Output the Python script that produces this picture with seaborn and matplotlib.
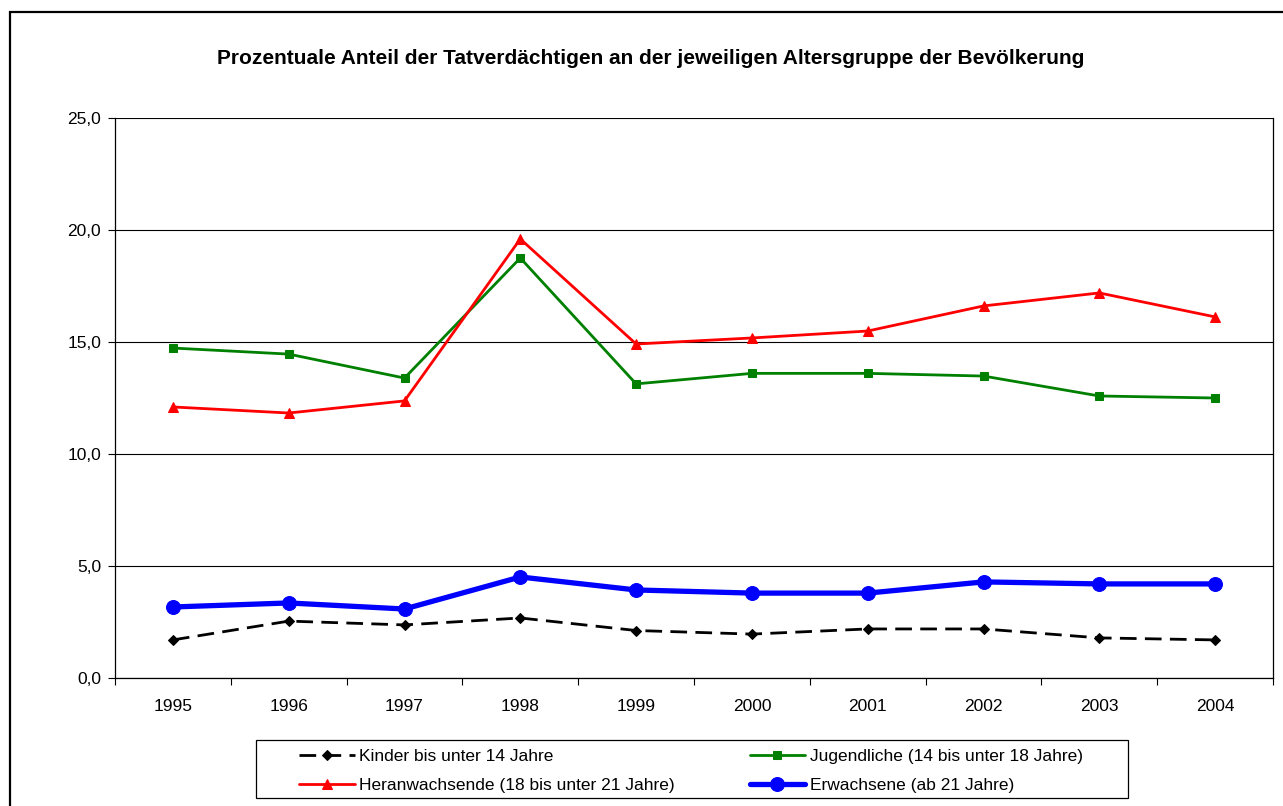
import numpy as np
import pandas as pd
import seaborn as sns
import matplotlib.pyplot as plt
from matplotlib.patches import Rectangle
from matplotlib.ticker import FuncFormatter, FixedLocator

years = ['1995', '1996', '1997', '1998', '1999', '2000', '2001', '2002', '2003', '2004']
kinder = [1.70, 2.54, 2.37, 2.68, 2.12, 1.96, 2.19, 2.19, 1.79, 1.70]
jugendliche = [14.73, 14.46, 13.39, 18.75, 13.13, 13.60, 13.60, 13.48, 12.59, 12.50]
heranwachsende = [12.10, 11.83, 12.37, 19.60, 14.91, 15.18, 15.49, 16.61, 17.19, 16.12]
erwachsene = [3.17, 3.35, 3.08, 4.51, 3.93, 3.79, 3.79, 4.29, 4.20, 4.20]

labels = ['Kinder bis unter 14 Jahre',
          'Jugendliche (14 bis unter 18 Jahre)',
          'Heranwachsende (18 bis unter 21 Jahre)',
          'Erwachsene (ab 21 Jahre)']
title = 'Prozentuale Anteil der Tatverdächtigen an der jeweiligen Altersgruppe der Bevölkerung'

sns.set_style('white')
plt.rcParams['font.family'] = ['Liberation Sans', 'DejaVu Sans']
plt.rcParams['text.color'] = 'black'
plt.rcParams['xtick.color'] = 'black'
plt.rcParams['ytick.color'] = 'black'
plt.rcParams['xtick.labelcolor'] = 'black'
plt.rcParams['ytick.labelcolor'] = 'black'

fig = plt.figure(figsize=(12.83, 8.06), dpi=100)
ax = fig.add_axes([115/1283, 1 - 678/806, (1273-115)/1283, (678-118)/806])

x = np.arange(len(years))
series = [
    # values, color, marker, markersize, linewidth, dashes
    (kinder, 'black', 'D', 5.5, 2.0, (6, 3)),
    (jugendliche, '#008000', 's', 6, 2.0, None),
    (heranwachsende, '#ff0000', '^', 7, 2.0, None),
    (erwachsene, '#0000ff', 'o', 10, 3.8, None),
]

handles = []
for (vals, col, mk, ms, lw, dash), lab in zip(series, labels):
    df = pd.DataFrame({'x': x, 'y': vals})
    sns.lineplot(data=df, x='x', y='y', ax=ax, color=col, marker=mk,
                 markersize=ms, linewidth=lw, markeredgecolor=col,
                 label=lab, legend=False)
    line = ax.lines[-1]
    if dash is not None:
        line.set_dashes(dash)
    handles.append(line)

ax.set_xlim(-0.5, len(years) - 0.5)
ax.set_ylim(0, 25)
ax.set_yticks([0, 5, 10, 15, 20, 25])
ax.yaxis.set_major_formatter(FuncFormatter(lambda v, p: f'{v:.1f}'.replace('.', ',')))
ax.grid(axis='y', color='black', linewidth=0.8)
ax.set_axisbelow(True)

ax.set_xticks(x)
ax.set_xticklabels(years)
ax.xaxis.set_minor_locator(FixedLocator(np.arange(-0.5, len(years), 1.0)))
ax.tick_params(axis='x', which='major', length=0, pad=15, labelsize=12.5)
ax.tick_params(axis='x', which='minor', length=5, width=0.8, color='black', direction='out', bottom=True)
ax.tick_params(axis='y', length=5, width=0.8, color='black', direction='out', left=True, labelsize=12.5, pad=5)
ax.set_xlabel('')
ax.set_ylabel('')
for s in ax.spines.values():
    s.set_color('black')
    s.set_linewidth(0.9)
ax.spines['top'].set_visible(False)

fig.text(651/1283, 1 - 58/806, title, ha='center', va='center',
         fontsize=15, fontweight='bold')

# legend, frameless, with a separate box drawn around it
order = [0, 2, 1, 3]
fig.legend([handles[i] for i in order], [labels[i] for i in order],
           loc='center', ncol=2, bbox_to_anchor=(691/1283, 1 - 771/806),
           fontsize=12.5, handlelength=3.2, frameon=False,
           borderaxespad=0, borderpad=0, labelspacing=0.8,
           handletextpad=0.25, columnspacing=4.3)
fig.patches.append(Rectangle((256/1283, 1 - 798/806), (1128-256)/1283, 58/806,
                             transform=fig.transFigure, fill=False,
                             edgecolor='black', linewidth=0.9))

fig.patches.append(Rectangle((10/1283, -0.1), 1.2, 1 - 12/806 + 0.1,
                             transform=fig.transFigure, fill=False,
                             edgecolor='black', linewidth=1.6))

fig.savefig('out.png', dpi=100)
